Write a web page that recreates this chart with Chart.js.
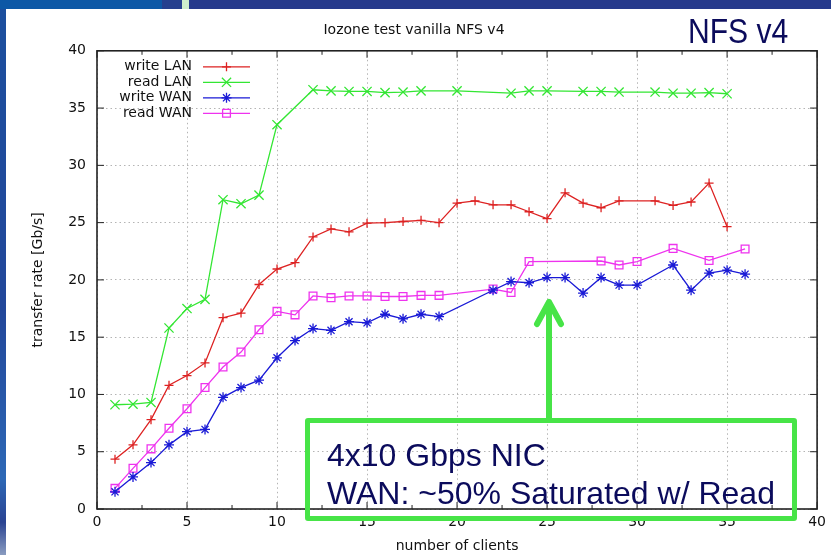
<!DOCTYPE html>
<html>
<head>
<meta charset="utf-8">
<title>Iozone test vanilla NFS v4</title>
<script src="https://cdn.jsdelivr.net/npm/chart.js@4.4.1/dist/chart.umd.min.js"></script>
<style>
  html, body { margin: 0; padding: 0; background: #fff; }
  #slide { position: relative; width: 831px; height: 555px; overflow: hidden; background: #fff; }
  #chart { position: absolute; left: 0; top: 0; }
  .band { position: absolute; }
  #nfs {
    position: absolute; left: 688px; top: 13px;
    font: 35px/35px "Liberation Sans", Arial, sans-serif;
    color: #0b0b5c; white-space: nowrap;
    transform: scaleX(0.86); transform-origin: 0 0;
  }
  #box {
    position: absolute; left: 305px; top: 418px; width: 482px; height: 93px;
    border: 5px solid #47e447; border-radius: 3px;
  }
  .note {
    position: absolute; left: 327px;
    font: 32px/32px "Liberation Sans", Arial, sans-serif;
    color: #0b0b5c; white-space: nowrap;
  }
  #arrow { position: absolute; left: 0; top: 0; }
</style>
</head>
<body>
<div id="slide">
  <canvas id="chart" width="831" height="555"></canvas>
  <div class="band" style="left:0;top:0;width:162px;height:9px;background:#0d58a6"></div>
  <div class="band" style="left:162px;top:0;width:20px;height:9px;background:#26408e"></div>
  <div class="band" style="left:182px;top:0;width:7px;height:9px;background:#cdeecd"></div>
  <div class="band" style="left:189px;top:0;width:642px;height:9px;background:#263a8c"></div>
  <div class="band" style="left:0;top:9px;width:6px;height:546px;background:linear-gradient(to bottom,#1c4f9e 0%,#22479a 55%,#2d68b6 86%,#2a4392 94%,#8a9cc0 100%)"></div>
  <div id="nfs">NFS v4</div>
  <svg id="arrow" width="831" height="555">
    <g stroke="#47e447" stroke-width="6" stroke-linecap="round" stroke-linejoin="round" fill="none">
      <line x1="549" y1="420" x2="549" y2="303"></line>
      <polyline points="537,324 549,302 561,324"></polyline>
    </g>
  </svg>
  <div id="box"></div>
  <div class="note" style="top:439px">4x10 Gbps NIC</div>
  <div class="note" style="top:477px">WAN: ~50% Saturated w/ Read</div>
</div>
<script>
const xTicks = [0, 5, 10, 15, 20, 25, 30, 35, 40];
const yTicks = [0, 5, 10, 15, 20, 25, 30, 35, 40];

const writeLanClients = [1, 2, 3, 4, 5, 6, 7, 8, 9, 10, 11, 12, 13, 14, 15, 16, 17, 18, 19, 20, 21, 22, 23, 24, 25, 26, 27, 28, 29, 31, 32, 33, 34, 35];
const writeLanRate = [4.35, 5.6, 7.8, 10.8, 11.65, 12.75, 16.7, 17.1, 19.6, 20.95, 21.5, 23.75, 24.45, 24.2, 24.95, 25.0, 25.1, 25.2, 25.0, 26.7, 26.9, 26.55, 26.55, 25.95, 25.35, 27.6, 26.7, 26.3, 26.9, 26.9, 26.5, 26.8, 28.45, 24.65];

const readLanClients = [1, 2, 3, 4, 5, 6, 7, 8, 9, 10, 12, 13, 14, 15, 16, 17, 18, 20, 23, 24, 25, 27, 28, 29, 31, 32, 33, 34, 35];
const readLanRate = [9.1, 9.15, 9.3, 15.8, 17.5, 18.3, 27.0, 26.65, 27.4, 33.55, 36.6, 36.5, 36.45, 36.45, 36.35, 36.4, 36.5, 36.5, 36.3, 36.5, 36.5, 36.45, 36.45, 36.4, 36.4, 36.3, 36.3, 36.35, 36.25];

const writeWanClients = [1, 2, 3, 4, 5, 6, 7, 8, 9, 10, 11, 12, 13, 14, 15, 16, 17, 18, 19, 22, 23, 24, 25, 26, 27, 28, 29, 30, 32, 33, 34, 35, 36];
const writeWanRate = [1.5, 2.8, 4.05, 5.6, 6.75, 6.95, 9.75, 10.6, 11.25, 13.2, 14.7, 15.75, 15.6, 16.35, 16.25, 17.0, 16.6, 17.0, 16.8, 19.1, 19.85, 19.75, 20.2, 20.2, 18.85, 20.2, 19.55, 19.55, 21.3, 19.1, 20.6, 20.85, 20.5];

const readWanClients = [1, 2, 3, 4, 5, 6, 7, 8, 9, 10, 11, 12, 13, 14, 15, 16, 17, 18, 19, 22, 23, 24, 28, 29, 30, 32, 34, 36];
const readWanRate = [1.8, 3.55, 5.25, 7.05, 8.75, 10.6, 12.4, 13.7, 15.65, 17.25, 16.95, 18.6, 18.45, 18.6, 18.6, 18.55, 18.55, 18.65, 18.65, 19.2, 18.9, 21.6, 21.65, 21.3, 21.6, 22.75, 21.7, 22.7];

const FONT = '"DejaVu Sans", sans-serif';
const INK = '#111';

function toPoints(clients, rates) {
  return clients.map((client, index) => ({ x: client, y: rates[index] }));
}

function series(label, clients, rates, color, pointStyle, radius) {
  return {
    label,
    data: toPoints(clients, rates),
    borderColor: color,
    borderWidth: 1.3,
    pointStyle,
    pointRadius: radius,
    pointBorderColor: color,
    pointBorderWidth: 1.3,
    pointBackgroundColor: 'rgba(0,0,0,0)',
    tension: 0,
    fill: false,
  };
}

// gnuplot style border with inward ticks on all four sides
const framePlugin = {
  id: 'gnuplotFrame',
  afterDatasetsDraw(chart) {
    const { ctx, chartArea: area, scales } = chart;
    const xs = scales.x;
    const ys = scales.y;
    ctx.save();
    ctx.strokeStyle = '#222';
    ctx.lineWidth = 1;
    ctx.beginPath();
    xTicks.forEach((value) => {
      const px = xs.getPixelForValue(value);
      ctx.moveTo(px, area.bottom); ctx.lineTo(px, area.bottom - 7);
      ctx.moveTo(px, area.top); ctx.lineTo(px, area.top + 7);
    });
    xTicks.slice(1).forEach((value, index) => {
      const px = xs.getPixelForValue((value + xTicks[index]) / 2);
      ctx.moveTo(px, area.bottom); ctx.lineTo(px, area.bottom - 4);
      ctx.moveTo(px, area.top); ctx.lineTo(px, area.top + 4);
    });
    yTicks.forEach((value) => {
      const py = ys.getPixelForValue(value);
      ctx.moveTo(area.left, py); ctx.lineTo(area.left + 7, py);
      ctx.moveTo(area.right, py); ctx.lineTo(area.right - 7, py);
    });
    ctx.stroke();
    ctx.lineWidth = 1.6;
    ctx.strokeRect(area.left, area.top, area.right - area.left, area.bottom - area.top);
    ctx.restore();
  },
};

// key in the upper left corner: label right aligned, sample line to its right
const keyPlugin = {
  id: 'insideKey',
  afterDatasetsDraw(chart) {
    const { ctx, chartArea: area } = chart;
    const textRight = area.left + 95;
    const lineStart = area.left + 106;
    const lineEnd = area.left + 153;
    ctx.save();
    ctx.font = `14px ${FONT}`;
    ctx.textAlign = 'right';
    ctx.textBaseline = 'middle';
    chart.data.datasets.forEach((ds, i) => {
      const rowY = area.top + 16 + i * 15.5;
      ctx.fillStyle = INK;
      ctx.fillText(ds.label, textRight, rowY);
      ctx.strokeStyle = ds.borderColor;
      ctx.lineWidth = ds.borderWidth;
      ctx.beginPath();
      ctx.moveTo(lineStart, rowY);
      ctx.lineTo(lineEnd, rowY);
      ctx.stroke();
      ctx.fillStyle = 'rgba(0,0,0,0)';
      Chart.helpers.drawPoint(ctx, {
        pointStyle: ds.pointStyle,
        radius: ds.pointRadius,
        borderWidth: ds.pointBorderWidth,
        rotation: 0,
      }, (lineStart + lineEnd) / 2, rowY);
    });
    ctx.restore();
  },
};

new Chart(document.getElementById('chart'), {
  type: 'line',
  data: {
    datasets: [
      series('write LAN', writeLanClients, writeLanRate, '#dd2222', 'cross', 4.5),
      series('read LAN', readLanClients, readLanRate, '#33e633', 'crossRot', 6.5),
      series('write WAN', writeWanClients, writeWanRate, '#1a1ad6', 'star', 5),
      series('read WAN', readWanClients, readWanRate, '#ee33ee', 'rect', 5.5),
    ],
  },
  options: {
    responsive: false,
    animation: false,
    events: [],
    layout: { padding: { left: 0, right: 3, top: 0, bottom: 0 } },
    scales: {
      x: {
        type: 'linear',
        min: 0,
        max: 40,
        afterBuildTicks: (scale) => { scale.ticks = xTicks.map((value) => ({ value })); },
        afterFit: (scale) => { scale.height = 46; },
        grid: { color: '#b4b4b4', lineWidth: 1, drawTicks: false },
        border: { display: false, dash: [1.5, 3] },
        ticks: { color: INK, font: { family: FONT, size: 14 }, padding: 5, maxRotation: 0 },
        title: { display: true, text: 'number of clients', color: INK, font: { family: FONT, size: 14 }, padding: { top: 0, bottom: 0 } },
      },
      y: {
        type: 'linear',
        min: 0,
        max: 40,
        afterBuildTicks: (scale) => { scale.ticks = yTicks.map((value) => ({ value })); },
        afterFit: (scale) => { scale.width = 97; },
        grid: { color: '#b4b4b4', lineWidth: 1, drawTicks: false },
        border: { display: false, dash: [1.5, 3] },
        ticks: { color: INK, font: { family: FONT, size: 14 }, padding: 11 },
        title: { display: true, text: 'transfer rate [Gb/s]', color: INK, font: { family: FONT, size: 14 }, padding: { top: 30, bottom: 0 } },
      },
    },
    plugins: {
      legend: { display: false },
      tooltip: { enabled: false },
      title: {
        display: true,
        text: 'Iozone test vanilla NFS v4',
        color: INK,
        font: { family: FONT, size: 14, weight: 'normal' },
        padding: { top: 22, bottom: 12 },
      },
    },
  },
  plugins: [framePlugin, keyPlugin],
});
</script>
</body>
</html>
